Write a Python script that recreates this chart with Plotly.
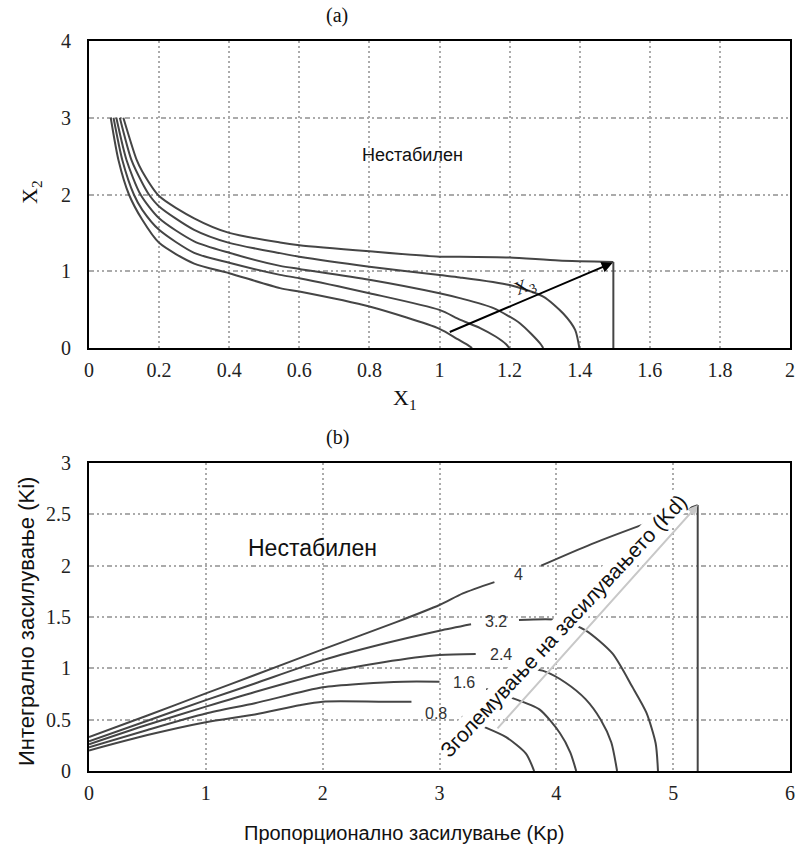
import plotly.graph_objects as go

# ---------------- (a) stability boundaries in the X1-X2 plane ----------------
a_c1_x = [0.062, 0.084, 0.114, 0.152, 0.2, 0.3, 0.4, 0.545, 0.6, 0.8, 1.0, 1.05, 1.08, 1.093]
a_c1_y = [3.0, 2.45, 2.0, 1.67, 1.37, 1.10, 0.975, 0.78, 0.735, 0.54, 0.25, 0.12, 0.04, 0.0]

a_c2_x = [0.07, 0.095, 0.128, 0.152, 0.2, 0.3, 0.4, 0.545, 0.6, 0.8, 1.0, 1.058, 1.116, 1.16, 1.19, 1.199]
a_c2_y = [3.0, 2.45, 2.0, 1.80, 1.54, 1.24, 1.11, 0.953, 0.91, 0.714, 0.496, 0.37, 0.26, 0.15, 0.05, 0.0]

a_c3_x = [0.078, 0.107, 0.147, 0.2, 0.3, 0.4, 0.545, 0.6, 0.8, 1.0, 1.058, 1.154, 1.23, 1.287, 1.296]
a_c3_y = [3.0, 2.45, 2.0, 1.69, 1.39, 1.24, 1.07, 1.03, 0.89, 0.714, 0.65, 0.52, 0.32, 0.06, 0.0]

a_c4_x = [0.088, 0.121, 0.152, 0.171, 0.2, 0.3, 0.4, 0.545, 0.6, 0.8, 1.0, 1.058, 1.2, 1.296, 1.353, 1.387, 1.399]
a_c4_y = [3.0, 2.45, 2.15, 2.0, 1.845, 1.54, 1.37, 1.236, 1.19, 1.06, 0.95, 0.92, 0.82, 0.67, 0.45, 0.235, 0.0]

a_c5_x = [0.098, 0.136, 0.152, 0.2, 0.3, 0.4, 0.545, 0.6, 0.8, 1.0, 1.058, 1.2, 1.34, 1.496]
a_c5_y = [3.0, 2.45, 2.3, 1.98, 1.69, 1.50, 1.375, 1.34, 1.26, 1.19, 1.19, 1.18, 1.14, 1.12]

a_edge_x = [1.496, 1.496]
a_edge_y = [1.12, 0.0]

a_arrow_from = (1.025, 0.20)
a_arrow_to = (1.494, 1.11)

a_xticks = [0, 0.2, 0.4, 0.6, 0.8, 1, 1.2, 1.4, 1.6, 1.8, 2]
a_xticktext = ["0", "0.2", "0.4", "0.6", "0.8", "1", "1.2", "1.4", "1.6", "1.8", "2"]
a_yticks = [0, 1, 2, 3, 4]

# ---------------- (b) stability boundaries in the Kp-Ki plane ----------------
kd_values = ["0.8", "1.6", "2.4", "3.2", "4"]

b_left_x = [
    [0, 0.5, 1.0, 1.42, 1.8, 2.0, 2.5, 2.76],
    [0, 0.5, 1.0, 1.42, 2.0, 2.34, 2.69, 3.0],
    [0, 0.5, 1.0, 1.42, 2.0, 2.52, 3.0, 3.31],
    [0, 0.5, 1.0, 1.42, 2.0, 2.52, 3.0, 3.27],
    [0, 0.5, 1.0, 1.42, 2.0, 2.63, 3.0, 3.2, 3.47],
]
b_left_y = [
    [0.20, 0.35, 0.475, 0.55, 0.64, 0.675, 0.675, 0.675],
    [0.23, 0.40, 0.56, 0.66, 0.815, 0.85, 0.87, 0.87],
    [0.26, 0.45, 0.627, 0.77, 0.95, 1.06, 1.13, 1.14],
    [0.29, 0.49, 0.69, 0.853, 1.08, 1.24, 1.367, 1.43],
    [0.33, 0.54, 0.756, 0.935, 1.185, 1.45, 1.617, 1.73, 1.84],
]
b_right_x = [
    [3.19, 3.34, 3.57, 3.74, 3.81],
    [3.40, 3.60, 3.855, 4.03, 4.12, 4.17],
    [3.78, 3.90, 4.08, 4.25, 4.38, 4.47, 4.52],
    [3.68, 4.03, 4.25, 4.48, 4.65, 4.77, 4.85, 4.87],
    [3.87, 4.30, 4.74, 5.21],
]
b_right_y = [
    [0.53, 0.45, 0.33, 0.17, 0.0],
    [0.80, 0.72, 0.60, 0.37, 0.18, 0.0],
    [1.0, 0.97, 0.86, 0.70, 0.50, 0.28, 0.0],
    [1.47, 1.47, 1.37, 1.145, 0.82, 0.57, 0.27, 0.0],
    [2.0, 2.21, 2.40, 2.59],
]
b_label_x = [2.97, 3.21, 3.53, 3.48, 3.68]
b_label_y = [0.56, 0.864, 1.13, 1.455, 1.915]

b_edge_x = [5.21, 5.21]
b_edge_y = [2.59, 0.0]

b_arrow_from = (3.485, 0.40)
b_arrow_to = (5.21, 2.59)

b_xticks = [0, 1, 2, 3, 4, 5, 6]
b_yticks = [0, 0.5, 1, 1.5, 2, 2.5, 3]
b_yticktext = ["0", "0.5", "1", "1.5", "2", "2.5", "3"]

# ---------------- styling ----------------
W, H = 796, 848
CURVE = dict(color="#454545", width=2, shape="spline", smoothing=0.7)
STRAIGHT = dict(color="#454545", width=2)
SERIF = "Liberation Serif, Times New Roman, serif"
SANS = "Liberation Sans, Arial, sans-serif"


def px_x(p):
    return p / W


def px_y(p):
    return 1 - p / H


fig = go.Figure()

for xs, ys in [(a_c1_x, a_c1_y), (a_c2_x, a_c2_y), (a_c3_x, a_c3_y),
               (a_c4_x, a_c4_y), (a_c5_x, a_c5_y)]:
    fig.add_trace(go.Scatter(x=xs, y=ys, mode="lines", line=CURVE,
                             xaxis="x", yaxis="y", showlegend=False,
                             hoverinfo="skip"))
fig.add_trace(go.Scatter(x=a_edge_x, y=a_edge_y, mode="lines", line=STRAIGHT,
                         xaxis="x", yaxis="y", showlegend=False,
                         hoverinfo="skip"))

for xs, ys in zip(b_left_x, b_left_y):
    fig.add_trace(go.Scatter(x=xs, y=ys, mode="lines", line=CURVE,
                             xaxis="x2", yaxis="y2", showlegend=False,
                             hoverinfo="skip"))
for xs, ys in zip(b_right_x, b_right_y):
    fig.add_trace(go.Scatter(x=xs, y=ys, mode="lines", line=CURVE,
                             xaxis="x2", yaxis="y2", showlegend=False,
                             hoverinfo="skip"))
fig.add_trace(go.Scatter(x=b_edge_x, y=b_edge_y, mode="lines", line=STRAIGHT,
                         xaxis="x2", yaxis="y2", showlegend=False,
                         hoverinfo="skip"))

axis_common = dict(
    showgrid=True, gridcolor="#ababab", gridwidth=1.8,
    showline=True, linecolor="black", linewidth=2, mirror=True,
    zeroline=False, ticks="", tickfont=dict(family=SERIF, size=20, color="#222"),
    fixedrange=True, automargin=False,
)
xdom = [px_x(89), px_x(790)]
XDASH = "2px,3px"
YDASH = "5px,3px,2px,3px,2px,3px"

fig.update_layout(
    width=W, height=H,
    margin=dict(l=0, r=0, t=0, b=0, autoexpand=False),
    paper_bgcolor="white", plot_bgcolor="white",
    xaxis=dict(axis_common, domain=xdom, range=[0, 2], tickvals=a_xticks,
               ticktext=a_xticktext, griddash=XDASH, anchor="y",
               ticklabelstandoff=3),
    yaxis=dict(axis_common, domain=[px_y(348), px_y(41)], range=[0, 4],
               tickvals=a_yticks, griddash=YDASH, anchor="x",
               ticklabelstandoff=12),
    xaxis2=dict(axis_common, domain=xdom, range=[0, 6], tickvals=b_xticks,
                griddash=XDASH, anchor="y2", ticklabelstandoff=3),
    yaxis2=dict(axis_common, domain=[px_y(771), px_y(463)], range=[0, 3],
                tickvals=b_yticks, ticktext=b_yticktext, griddash=YDASH,
                anchor="x2", ticklabelstandoff=12),
)

CENTER = dict(xanchor="center", yanchor="middle", showarrow=False)

ann = []
# panel titles
ann.append(dict(CENTER, text="(a)", x=px_x(337), y=px_y(16), xref="paper",
                yref="paper", font=dict(family=SERIF, size=20, color="#111")))
ann.append(dict(CENTER, text="(b)", x=px_x(337), y=px_y(437), xref="paper",
                yref="paper", font=dict(family=SERIF, size=20, color="#111")))
# axis titles
ann.append(dict(CENTER, text="X<sub>1</sub>", x=px_x(405), y=px_y(399),
                xref="paper", yref="paper",
                font=dict(family=SERIF, size=22, color="#111")))
ann.append(dict(CENTER, text="X<sub>2</sub>", x=px_x(31), y=px_y(192),
                xref="paper", yref="paper", textangle=-90,
                font=dict(family=SERIF, size=22, color="#111")))
ann.append(dict(CENTER, text="Пропорционално засилување (Kp)", x=px_x(404),
                y=px_y(833), xref="paper", yref="paper",
                font=dict(family=SANS, size=20, color="#111")))
ann.append(dict(CENTER, text="Интегрално засилување (Ki)", x=px_x(26),
                y=px_y(622), xref="paper", yref="paper", textangle=-90,
                font=dict(family=SANS, size=22, color="#111")))
# region labels
ann.append(dict(CENTER, text="Нестабилен", x=0.924, y=2.52, xref="x", yref="y",
                font=dict(family=SANS, size=18, color="#111")))
ann.append(dict(CENTER, text="Нестабилен", x=1.91, y=2.17, xref="x2", yref="y2",
                font=dict(family=SANS, size=23, color="#111")))
# X3 direction arrow in (a)
ann.append(dict(x=a_arrow_to[0], y=a_arrow_to[1], ax=a_arrow_from[0],
                ay=a_arrow_from[1], xref="x", yref="y", axref="x", ayref="y",
                showarrow=True, arrowhead=2, arrowsize=1.1, arrowwidth=2,
                arrowcolor="black", text=""))
ann.append(dict(CENTER, text="X<sub>3</sub>", x=1.244, y=0.79, xref="x",
                yref="y", textangle=-23,
                font=dict(family=SERIF, size=19, color="#111")))
# Kd labels in (b)
for lab, lx, ly in zip(kd_values, b_label_x, b_label_y):
    ann.append(dict(CENTER, text=lab, x=lx, y=ly, xref="x2", yref="y2",
                    font=dict(family=SANS, size=16, color="#333")))
# increasing-Kd arrow and its caption
ann.append(dict(x=b_arrow_to[0], y=b_arrow_to[1], ax=b_arrow_from[0],
                ay=b_arrow_from[1], xref="x2", yref="y2", axref="x2", ayref="y2",
                showarrow=True, arrowhead=2, arrowsize=1.0, arrowwidth=2,
                arrowcolor="#c8c8c8", text=""))
ann.append(dict(CENTER, text="Зголемување на засилувањето (Kd)", x=4.06, y=1.42,
                xref="x2", yref="y2", textangle=-47, bgcolor="white",
                borderpad=0, font=dict(family=SANS, size=21, color="#111")))

fig.update_layout(annotations=ann)

fig.write_html("out.html")
